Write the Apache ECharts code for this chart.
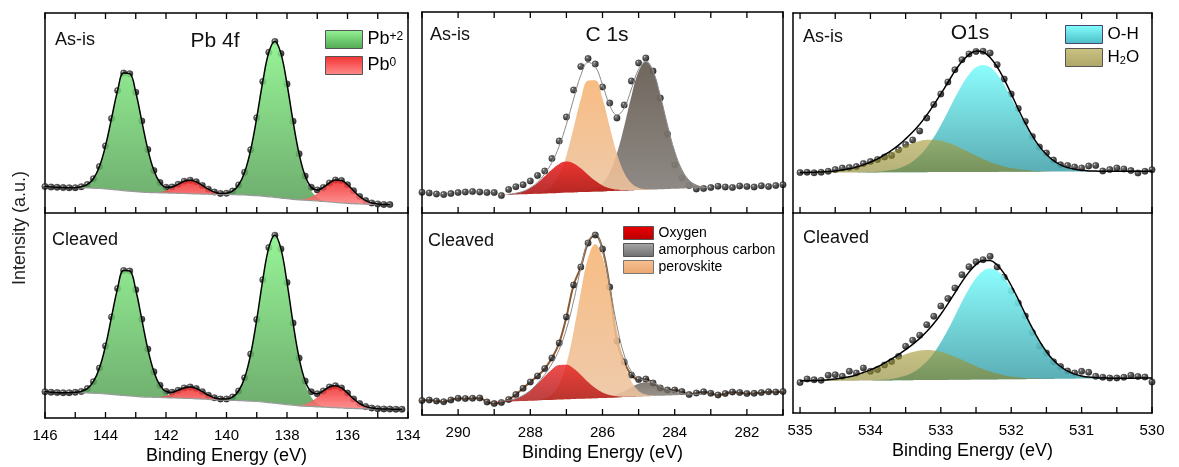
<!DOCTYPE html>
<html><head><meta charset="utf-8">
<script src="https://cdn.jsdelivr.net/npm/echarts@6/dist/echarts.min.js"></script>
<style>html,body{margin:0;padding:0;background:#fff}#c{width:1179px;height:467px}</style>
</head><body><div id="c"></div>
<script>
// ---------------- Pb 4f ----------------
const pbCats = [146.0,145.8,145.6,145.4,145.2,145.0,144.8,144.6,144.4,144.2,144.0,143.8,143.6,143.4,143.2,143.0,142.8,142.6,142.4,142.2,142.0,141.8,141.6,141.4,141.2,141.0,140.8,140.6,140.4,140.2,140.0,139.8,139.6,139.4,139.2,139.0,138.8,138.6,138.4,138.2,138.0,137.8,137.6,137.4,137.2,137.0,136.8,136.6,136.4,136.2,136.0,135.8,135.6,135.4,135.2,135.0,134.8,134.6,134.4,134.2,134.0];
const pbTicks = [134,135,136,137,138,139,140,141,142,143,144,145,146];
const pbAsisData = [26.5,26,25.7,25.4,25.2,25.3,26.3,28.5,34.3,46.5, 67.1,94.6,122.4,139.9,139.3,120.7,91.9,63.6,42.6,30.5, 25.8,26.0,28.7,31.7,32.8,31.2,27.6,23.8,20.9,19.6, 19.8,21.9,28,40.8,63.2,95.3,131.5,160.7,171.6,159.4, 129,91.8,59.2,37,25.8,23.1,25.6,30,33,32.5, 28.3,22.3,16.5,12.4,10.1,9.1,8.6,8.4];
const pbAsisBase = [26,25.8,25.6,25.4,25.3,25.2,25.1,25.0,24.8,24.5, 24.1,23.6,23.0,22.4,21.8,21.3,20.9,20.6,20.4,20.2, 20.0,19.9,19.7,19.5,19.3,19.1,18.9,18.8,18.6,18.5, 18.4,18.3,18.2,18.0,17.7,17.3,16.8,16.2,15.6,14.9, 14.3,13.7,13.2,12.8,12.4,12.0,11.5,11.0,10.5,10.0, 9.6,9.3,9.0,8.8,8.7,8.6,8.5,8.4];
const pbAsisPb2 = [0,0,0,0,0.1,0.3,1.1,3.5,9.5,22, 43,71,99.4,117.5,117.5,99.4,71,43,22,9.5, 3.5,1.1,0.3,0.1,0,0,0,0,0,0.3, 1.1,3.6,9.8,22.8,45.5,78,114.7,144.5,156,144.5, 114.7,78,45.5,22.8,9.8,3.6,1.1,0.3,0,0, 0,0,0,0,0,0,0,0];
const pbAsisPb0 = [0,0,0,0,0,0,0,0,0,0, 0,0,0,0,0,0,0,0,0.3,0.8, 2.3,5,8.7,12.1,13.5,12.1,8.7,5,2.3,0.8, 0.3,0,0,0,0,0,0,0,0,0, 0,0.1,0.5,1.4,3.6,7.5,13,18.7,22.5,22.5, 18.7,13,7.5,3.6,1.4,0.5,0.1,0];
const pbClvData = [26.2,25.8,25.4,25.2,25.3,25.7,26.6,29.4,36.3,49.9, 72.1,101.1,129.6,147.5,147,128.2,98.7,68.9,46.3,32.7, 26.6,25.7,27.7,30.1,31,29.5,26.3,22.8,20.2,19, 19,21,27,40.2,63.9,98.5,138.2,170.4,182.8,169.1, 135.6,95,60,37,26.2,24.2,27.1,31,32.3,30.1, 24.9,19.1,14.4,11.4,9.9,9.3,9.0,8.9,8.8,8.8];
const pbClvBase = [25.8,25.7,25.6,25.5,25.4,25.3,25.2,25.0,24.8,24.5, 24.1,23.6,23.0,22.5,22.0,21.6,21.2,20.9,20.7,20.5, 20.3,20.1,19.9,19.7,19.5,19.2,18.9,18.6,18.3,18.0, 17.8,17.6,17.4,17.2,16.9,16.5,16.0,15.4,14.8,14.1, 13.4,12.8,12.2,11.8,11.5,11.2,10.9,10.6,10.3,10.0, 9.7,9.5,9.3,9.2,9.1,9.0,9.0,8.9,8.9,8.8];
const pbClvPb2 = [0,0,0,0,0.1,0.4,1.4,4.4,11.5,25.4, 48,77.5,106.6,125,125,106.6,77.5,48,25.4,11.5, 4.4,1.4,0.4,0.1,0,0,0,0,0,0.3, 1,3.4,9.6,23,47,82,122.2,155,168,155, 122.2,82,47,23,9.6,3.4,1,0.3,0,0, 0,0,0,0,0,0,0,0,0,0];
const pbClvPb0 = [0,0,0,0,0,0,0,0,0,0, 0,0,0,0,0,0,0,0,0.2,0.7, 1.9,4.2,7.4,10.3,11.5,10.3,7.4,4.2,1.9,0.7, 0.2,0,0,0,0,0,0,0,0,0, 0,0.3,0.8,2.2,5.1,9.6,15.2,20.1,22,20.1, 15.2,9.6,5.1,2.2,0.8,0.3,0,0,0,0];

// ---------------- C 1s ----------------
const cCats = [291.0,290.8,290.6,290.4,290.2,290.0,289.8,289.6,289.4,289.2,289.0,288.8,288.6,288.4,288.2,288.0,287.8,287.6,287.4,287.2,287.0,286.8,286.6,286.4,286.2,286.0,285.8,285.6,285.4,285.2,285.0,284.8,284.6,284.4,284.2,284.0,283.8,283.6,283.4,283.2,283.0,282.8,282.6,282.4,282.2,282.0,281.8,281.6,281.4,281.2,281.0];
const cTicks = [281,282,283,284,285,286,287,288,289,290,291];
const cAsisData = [20.7,20,19,18.5,19.5,20.5,21,21.5,21,20.5, 20.5,17.5,23.5,26.3,28.3,32,37.5,42,54.5,72, 96,123,146.6,154.5,149,126,110,95,108,132, 150,155,142,115,79,48,35,27.5,24,24.5, 25.5,26.8,26,25.5,27,26.5,26,27.3,26.5,27.5, 28.3];
const cAsisEnv = [null,null,null,null,null,null,null,null,null,null, null,null,18.8,19.8,21.7,25.3,30.8,39.2,50.7,66.9, 88.6,113.9,137.8,150.6,146.5,128.4,107.8,98,104.7,124, 143.8,151.9,142,117.7,88,61.6,43.2,32.7,27.9,25.9, 25.3,null,null,null,null,null,null,null,null,null, null];
const cAsisBase = [18.3,18.3,18.3,18.3,18.3,18.3,18.3,18.3,18.3,18.3, 18.3,18.3,18.3,18.6,18.8,19.1,19.3,19.6,19.8,20.1, 20.4,20.6,20.9,21.1,21.4,21.6,21.9,22.2,22.4,22.7, 22.9,23.2,23.4,23.7,24.0,24.2,24.5,24.7,25.0,25.0, 25,25,25,25,25,25,25,25,25,25, 25];
const cAsisOxy = [0,0,0,0,0,0,0,0,0,0, 0,0.2,0.5,1.2,2.9,6,10.8,17.2,23.8,29, 31,29,23.8,17.2,10.8,6,2.9,1.2,0.5,0.2, 0,0,0,0,0,0,0,0,0,0, 0,0,0,0,0,0,0,0,0,0, 0];
const cAsisPer = [0,0,0,0,0,0,0,0,0,0, 0,0,0,0,0,0.2,0.7,2.4,7.1,17.8, 37.2,64.3,92.8,111.4,111.4,92.8,64.3,37.2,17.8,7.1, 2.4,0.7,0.2,0,0,0,0,0,0,0, 0,0,0,0,0,0,0,0,0,0, 0];
const cAsisAmo = [0,0,0,0,0,0,0,0,0,0, 0,0,0,0,0,0,0,0,0,0, 0,0,0.3,0.9,2.9,8,18.7,37.4,64,94, 118.5,128,118.5,94,64,37.4,18.7,8,2.9,0.9, 0.3,0,0,0,0,0,0,0,0,0, 0];
const cClvData = [14.5,15,14,13.3,15,16.7,16.5,16.7,17,13, 11.5,12.5,15.5,20.5,26.7,33,39,46.5,57,72, 98,130,148,172,180,166,128,74,53,40, 35.5,36,32,27,25,25,23.5,20.5,22,23.3, 21.7,20,21.5,23,22.5,21.5,21.7,22.5,23.3,23, 23.5];
const cClvEnv = [null,null,null,null,null,null,null,null,null,null, null,13.9,14.6,16.5,19.6,24.6,31.7,40.5,51.3,65.5, 85.8,114,146.8,173.5,181.2,163.5,128.1,89.4,60,43.6, 36.9,34.4,32.3,29,25.6,23,21.4,20.8,20.7,20.5, null,null,null,null,null,null,null,null,null,null, null];
const cClvBase = [13.5,13.5,13.5,13.5,13.5,13.5,13.5,13.5,13.5,13.5, 13.5,13.5,13.5,13.8,14.0,14.3,14.6,14.9,15.1,15.4, 15.7,16.0,16.2,16.5,16.8,17.0,17.3,17.6,17.9,18.1, 18.4,18.7,19.0,19.2,19.5,19.8,20.0,20.3,20.5,20.5, 20.5,20.5,20.5,20.5,20.5,20.5,20.5,20.5,20.5,20.5, 20.5];
const cClvOxy = [0,0,0,0,0,0,0,0,0,0, 0.2,0.4,1.1,2.7,5.6,10.2,16.6,23.9,30.5,34.5, 34.5,30.5,23.9,16.6,10.2,5.6,2.7,1.1,0.4,0.2, 0,0,0,0,0,0,0,0,0,0, 0,0,0,0,0,0,0,0,0,0, 0];
const cClvPer = [0,0,0,0,0,0,0,0,0,0, 0,0,0,0,0,0.1,0.5,1.7,5.7,15.6, 35.6,67.5,106.7,140.4,154,140.4,106.7,67.5,35.6,15.6, 5.7,1.7,0.5,0.1,0,0,0,0,0,0, 0,0,0,0,0,0,0,0,0,0, 0];
const cClvAmo = [0,0,0,0,0,0,0,0,0,0, 0,0,0,0,0,0,0,0,0,0, 0,0,0,0,0.2,0.5,1.4,3.2,6.1,9.7, 12.8,14,12.8,9.7,6.1,3.2,1.4,0.5,0.2,0, 0,0,0,0,0,0,0,0,0,0, 0];

// ---------------- O1s ----------------
const oCats = [535.1,535.0,534.9,534.8,534.7,534.6,534.5,534.4,534.3,534.2,534.1,534.0,533.9,533.8,533.7,533.6,533.5,533.4,533.3,533.2,533.1,533.0,532.9,532.8,532.7,532.6,532.5,532.4,532.3,532.2,532.1,532.0,531.9,531.8,531.7,531.6,531.5,531.4,531.3,531.2,531.1,531.0,530.9,530.8,530.7,530.6,530.5,530.4,530.3,530.2,530.1,530.0];
const oTicks = [530,530.5,531,531.5,532,532.5,533,533.5,534,534.5,535];
const oE = oCats.slice(1);
const oAsisData = [40.5,40.7,40.2,40.7,41.7,43.5,45,45.5,46.5,49.5, 51.5,53.5,56,57.5,63.3,68.5,73,82,95,108.5, 119,131,143.3,153.3,159,161.6,161.8,160,148.3,134, 119,104.5,91.6,76.6,66,60,53,48.3,47.5,46, 45,47,47.5,42,43.5,45,44,42.5,40,41.7, 43.3];
const oAsisEnv = [40.4,40.5,40.8,41.0,41.4,42.1,43.0,44.2,45.9,48.1, 50.8,54.1,58.2,62.7,67.9,74.1,80.9,88.8,97.9,108.1, 119.1,130.5,141.8,151.4,158.4,162,161,155.6,146.1,133.6, 119.1,104,89.8,77.1,66.6,58.5,52.4,48.2,45.4,43.7, 42.7,42.1,41.9,41.7,41.7,41.7,41.7,41.7,41.7,41.8, 41.8];
const oAsisBase = [40.3,40.3,40.4,40.4,40.4,40.5,40.5,40.5,40.5,40.6, 40.6,40.6,40.7,40.7,40.7,40.8,40.8,40.8,40.8,40.9, 40.9,40.9,41.0,41.0,41.0,41.1,41.1,41.1,41.1,41.2, 41.2,41.2,41.3,41.3,41.3,41.4,41.4,41.4,41.4,41.5, 41.5,41.5,41.6,41.6,41.6,41.7,41.7,41.7,41.7,41.8, 41.8];
const oAsisOH = [0,0,0,0,0,0,0,0,0.1,0.1, 0.3,0.6,1.2,2.2,3.9,6.7,10.8,16.7,24.7,34.8, 46.9,60.3,74.2,87.1,97.6,104.6,107,104.6,97.6,87.1, 74.2,60.3,46.9,34.8,24.7,16.7,10.8,6.7,3.9,2.2, 1.2,0.6,0.3,0.1,0.1,0,0,0,0,0, 0];
const oAsisH2O = [0.1,0.2,0.4,0.6,1.0,1.6,2.5,3.7,5.3,7.4, 9.9,12.9,16.3,19.8,23.3,26.6,29.3,31.3,32.4,32.4, 31.3,29.3,26.6,23.3,19.8,16.3,12.9,9.9,7.4,5.3, 3.7,2.5,1.6,1.0,0.6,0.4,0.2,0.1,0.1,0, 0,0,0,0,0,0,0,0,0,0, 0];
const oClvData = [30.5,34,33.3,32.7,37.7,38.3,36.7,41.7,40,45, 41.7,43.5,48,51.5,56.7,66.7,72.7,77.8,88.3,96.7, 107,114.5,125,138.3,146.3,151.3,153.3,156.7,146,135.8, 122,110,97,80.5,67,60,51.2,46.5,42,40, 41.7,40.7,36.7,35.8,35,35,35.7,37.7,36.6,36, 31];
const oClvEnv = [32.0,32.2,32.4,32.8,33.3,34.0,35.0,36.3,38.1,40.5, 43.1,46.3,50.0,54.0,58.5,63.3,68.6,74.6,81.5,89.5, 98.8,109.1,120.2,131.1,140.9,148.4,152.6,152.5,148,139.4, 127.5,113.6,98.9,84.8,72.1,61.3,52.8,46.5,41.9,38.9, 37.1,35.9,35.3,35.0,34.8,34.8,34.7,34.8,34.9,34.9, 35.0];
const oClvBase = [31.8,31.9,31.9,32.0,32.1,32.1,32.2,32.2,32.3,32.4, 32.4,32.5,32.6,32.6,32.7,32.8,32.8,32.9,33.0,33.0, 33.1,33.1,33.2,33.3,33.3,33.4,33.5,33.5,33.6,33.7, 33.7,33.8,33.8,33.9,34.0,34.0,34.1,34.2,34.2,34.3, 34.4,34.4,34.5,34.6,34.6,34.7,34.7,34.8,34.9,34.9, 35.0];
const oClvOH = [0,0,0,0,0,0,0,0,0,0.1, 0.2,0.4,0.8,1.5,2.7,4.6,7.7,12.2,18.5,27, 37.6,50.1,63.9,77.9,91,101.6,108.6,111,108.6,101.6, 91,77.9,63.9,50.1,37.6,27,18.5,12.2,7.7,4.6, 2.7,1.5,0.8,0.4,0.2,0.1,0,0,0,0, 0];
const oClvH2O = [0.2,0.3,0.5,0.8,1.2,1.9,2.8,4.1,5.8,8, 10.5,13.4,16.6,19.9,23.1,25.9,28.1,29.5,30,29.5, 28.1,25.9,23.1,19.9,16.6,13.4,10.5,8,5.8,4.1, 2.8,1.9,1.2,0.8,0.5,0.3,0.2,0.1,0,0, 0,0,0,0,0,0,0,0,0,0, 0];

// axis ranges (eV) and tick steps
const pbRange = [134, 146], cRange = [281, 291], oRange = [530, 535.1];
const pbStep = 1, cStep = 1, oStep = 0.5;

// ---------------- helpers ----------------
const FONT = '"Liberation Sans", Arial, Helvetica, sans-serif';
const ball = {type:'radial', x:0.35, y:0.32, r:0.65, colorStops:[{offset:0,color:'#ffffff'},{offset:0.22,color:'#4a4a4a'},{offset:1,color:'#000000'}]};
function vgrad(c1, c2){ return {type:'linear', x:0, y:0, x2:0, y2:1, colorStops:[{offset:0,color:c1},{offset:1,color:c2}]}; }
function pairsCat(xs, ys){ return ys.map((v,i)=>[xs[i].toFixed(1), v]); }
function pairsNum(xs, ys){ return ys.map((v,i)=>[xs[i], v]); }
const isInt = v => Math.abs(v - Math.round(v)) < 1e-6;
const isEven = v => isInt(v) && Math.round(v) % 2 === 0;

function xcat(gi, cats){ return {type:'category', gridIndex:gi, position:'bottom', data:cats.map(v=>v.toFixed(1)), boundaryGap:false, show:false}; }
function xval(gi, range, step, pos, showLabels, labelFn){
  return {
    type:'value', gridIndex:gi, position:pos, min:range[0], max:range[1], interval:step, inverse:true,
    axisLine:{show:true, lineStyle:{color:'#000', width:1.5}},
    axisTick:{show:false},
    axisLabel:{show:showLabels, margin:10, color:'#000', fontSize:15, fontFamily:FONT,
      formatter:v => labelFn(v) ? String(Math.round(v)) : ''},
    splitLine:{show:false},
    name: showLabels ? 'Binding Energy (eV)' : '', nameLocation:'middle', nameGap:29,
    nameTextStyle:{color:'#000', fontSize:18, fontFamily:FONT}
  };
}
const Y_MIN = 0.01;
function yv(gi, max, pos){ return {type:'value', gridIndex:gi, position:pos, min:Y_MIN, max:max,
  axisLine:{show:true, onZero:false, lineStyle:{color:'#000', width:1.5}}, axisTick:{show:false}, axisLabel:{show:false}, splitLine:{show:false}}; }

function dotS(xi, yi, xs, ys){ return {type:'scatter', xAxisIndex:xi, yAxisIndex:yi, data:pairsNum(xs,ys), symbol:'circle', symbolSize:6.5,
  itemStyle:{color:ball, borderColor:'#000', borderWidth:0.3}, z:2, silent:true}; }
function lineS(xi, yi, xs, ys, color, width, z){ return {type:'line', xAxisIndex:xi, yAxisIndex:yi, data:pairsNum(xs,ys), symbol:'none',
  smooth:0.4, lineStyle:{color:color, width:width}, z:z, silent:true}; }
function baseS(gi, xs, ys, stack){ return {type:'line', xAxisIndex:gi, yAxisIndex:gi, data:pairsCat(xs,ys), stack:stack, symbol:'none',
  smooth:0.4, lineStyle:{width:0, opacity:0}, z:3, silent:true}; }
function compS(name, gi, xs, ys, stack, fill, op){ return {type:'line', name:name, xAxisIndex:gi, yAxisIndex:gi, data:pairsCat(xs,ys), stack:stack,
  symbol:'none', smooth:0.4, lineStyle:{width:0, opacity:0}, areaStyle:{color:fill, opacity:op}, z:3, silent:true}; }

const greenFill = vgrad('#84f284', '#559e55');
const redFill = vgrad('#ee2424', '#ff8080');
const oxyFill = vgrad('#ea1a1a', '#a80a0a');
const perFill = vgrad('#f6b372', '#ecc3a0');
const amoFill = vgrad('#655b51', '#87827d');
const ohFill = vgrad('#80fdfd', '#48a4ac');
const h2oFill = vgrad('rgba(165,155,55,0.62)', 'rgba(135,130,40,0.62)');

const X = {g0b:6, g0t:7, g1b:8, g2b:9, g2t:10, g3b:11, g4b:12, g4t:13, g5b:14};
const gridH = [200, 205, 201, 202, 200, 200];

const series = [
  dotS(X.g0b,0,pbCats,pbAsisData),
  baseS(0,pbCats,pbAsisBase,'s0g'), compS('Pb+2',0,pbCats,pbAsisPb2,'s0g',greenFill,0.85),
  baseS(0,pbCats,pbAsisBase,'s0r'), compS('Pb0',0,pbCats,pbAsisPb0,'s0r',redFill,0.85),
  lineS(X.g0b,0,pbCats,pbAsisBase,'#9a9a9a',1.2,4),
  lineS(X.g0t,0,pbCats,pbAsisData,'#000',1.5,5),

  dotS(X.g1b,1,pbCats,pbClvData),
  baseS(1,pbCats,pbClvBase,'s1g'), compS('Pb+2',1,pbCats,pbClvPb2,'s1g',greenFill,0.85),
  baseS(1,pbCats,pbClvBase,'s1r'), compS('Pb0',1,pbCats,pbClvPb0,'s1r',redFill,0.85),
  lineS(X.g1b,1,pbCats,pbClvBase,'#9a9a9a',1.2,4),
  lineS(X.g1b,1,pbCats,pbClvData,'#000',1.5,5),

  dotS(X.g2b,2,cCats,cAsisData),
  baseS(2,cCats,cAsisBase,'s2a'), compS('amorphous carbon',2,cCats,cAsisAmo,'s2a',amoFill,0.93),
  baseS(2,cCats,cAsisBase,'s2p'), compS('perovskite',2,cCats,cAsisPer,'s2p',perFill,0.88),
  baseS(2,cCats,cAsisBase,'s2o'), compS('Oxygen',2,cCats,cAsisOxy,'s2o',oxyFill,0.85),
  lineS(X.g2t,2,cCats,cAsisEnv,'#8a8a8a',1,5),

  lineS(X.g3b,3,cCats,cClvData,'#8a5a32',2,1.9),
  dotS(X.g3b,3,cCats,cClvData),
  baseS(3,cCats,cClvBase,'s3a'), compS('amorphous carbon',3,cCats,cClvAmo,'s3a',amoFill,0.8),
  baseS(3,cCats,cClvBase,'s3p'), compS('perovskite',3,cCats,cClvPer,'s3p',perFill,0.88),
  baseS(3,cCats,cClvBase,'s3o'), compS('Oxygen',3,cCats,cClvOxy,'s3o',oxyFill,0.78),
  lineS(X.g3b,3,cCats,cClvEnv,'#8a8a8a',1,5),

  dotS(X.g4b,4,oE,oAsisData),
  baseS(4,oE,oAsisBase,'s4h'), compS('O-H',4,oE,oAsisOH,'s4h',ohFill,0.9),
  baseS(4,oE,oAsisBase,'s4w'), compS('H2O',4,oE,oAsisH2O,'s4w',h2oFill,1),
  lineS(X.g4t,4,oE,oAsisEnv,'#000',1.5,5),

  dotS(X.g5b,5,oE,oClvData),
  baseS(5,oE,oClvBase,'s5h'), compS('O-H',5,oE,oClvOH,'s5h',ohFill,0.9),
  baseS(5,oE,oClvBase,'s5w'), compS('H2O',5,oE,oClvH2O,'s5w',h2oFill,1),
  lineS(X.g5b,5,oE,oClvEnv,'#000',1.5,5)
];

const grids = [
  {left:45, top:13, width:363, height:200},
  {left:45, top:213, width:363, height:205},
  {left:422, top:12, width:361, height:201},
  {left:422, top:213, width:361, height:202},
  {left:793, top:13, width:359, height:200},
  {left:793, top:213, width:359, height:200}
];

const xAxes = [
  xcat(0, pbCats), xcat(1, pbCats), xcat(2, cCats), xcat(3, cCats), xcat(4, oCats), xcat(5, oCats),
  xval(0, pbRange, pbStep, 'bottom', false, isEven),
  xval(0, pbRange, pbStep, 'top', false, isEven),
  xval(1, pbRange, pbStep, 'bottom', true, isEven),
  xval(2, cRange, cStep, 'bottom', false, isEven),
  xval(2, cRange, cStep, 'top', false, isEven),
  xval(3, cRange, cStep, 'bottom', true, isEven),
  xval(4, oRange, oStep, 'bottom', false, isInt),
  xval(4, oRange, oStep, 'top', false, isInt),
  xval(5, oRange, oStep, 'bottom', true, isInt)
];
const yAxes = gridH.map((h,i)=>yv(i,h,'left')).concat(gridH.map((h,i)=>yv(i,h,'right')));

function legendItem(name, c1, c2, border){ return {name:name, itemStyle:{color:vgrad(c1,c2), borderColor:border, borderWidth:1, opacity:1}}; }
const legends = [
  {left:325, top:30, padding:0, orient:'vertical', icon:'rect', itemWidth:37, itemHeight:18, itemGap:7, selectedMode:false,
   data:[legendItem('Pb+2','#94f494','#52a852','#555'), legendItem('Pb0','#f23232','#ff8c8c','#555')],
   formatter:n => n === 'Pb+2' ? '{m|Pb}{s|+2}' : '{m|Pb}{s|0}',
   textStyle:{color:'#000', fontFamily:FONT, fontSize:18, rich:{m:{fontSize:18, fontFamily:FONT, color:'#000'}, s:{fontSize:12, fontFamily:FONT, color:'#000', verticalAlign:'top'}}}},
  {left:623, top:226, padding:0, orient:'vertical', icon:'rect', itemWidth:30, itemHeight:13, itemGap:3, selectedMode:false,
   data:[legendItem('Oxygen','#ee0000','#b80000','#555'), legendItem('amorphous carbon','#a8a8a8','#6e6e6e','#555'), legendItem('perovskite','#f7c092','#eaa66e','#777')],
   textStyle:{color:'#000', fontFamily:FONT, fontSize:14, lineHeight:14}},
  {left:1065, top:25, padding:0, orient:'vertical', icon:'rect', itemWidth:37, itemHeight:18, itemGap:4, selectedMode:false,
   data:[legendItem('O-H','#84ffff','#4cbcc4','#447'), legendItem('H2O','#cbc384','#aea666','#555')],
   formatter:n => n === 'H2O' ? '{m|H}{b|2}{m|O}' : '{m|O-H}',
   textStyle:{color:'#000', fontFamily:FONT, fontSize:17, rich:{m:{fontSize:17, fontFamily:FONT, color:'#000'}, b:{fontSize:11, fontFamily:FONT, color:'#000', verticalAlign:'bottom'}}}}
];

function txt(t, x, y, size, align){
  return {type:'text', x:x, y:y, z:100, silent:true,
    style:{text:t, font:size + 'px ' + FONT, fill:'#111', textAlign:align, textVerticalAlign:'middle', align:align, verticalAlign:'middle'}};
}
const graphics = [
  txt('As-is', 55, 40, 18, 'left'),
  txt('Pb 4f', 215, 41, 21, 'center'),
  txt('Cleaved', 52, 240, 18, 'left'),
  txt('As-is', 430, 35, 18, 'left'),
  txt('C 1s', 607, 35, 21, 'center'),
  txt('Cleaved', 428, 241, 18, 'left'),
  txt('As-is', 803, 37, 18, 'left'),
  txt('O1s', 970, 33, 21, 'center'),
  txt('Cleaved', 803, 238, 18, 'left'),
  {type:'text', x:20, y:228, rotation:Math.PI/2, z:100, silent:true,
   style:{text:'Intensity (a.u.)', font:'18px ' + FONT, fill:'#222', textAlign:'center', textVerticalAlign:'middle', align:'center', verticalAlign:'middle'}}
];

const chart = echarts.init(document.getElementById('c'), null, {renderer:'canvas', width:1179, height:467});
chart.setOption({
  animation:false,
  grid:grids,
  xAxis:xAxes,
  yAxis:yAxes,
  legend:legends,
  graphic:graphics,
  series:series
});

// inward tick marks, placed through the value axes' own scales
const tickSpecs = [
  {xi:X.g0b, g:0, ticks:pbTicks, top:true},
  {xi:X.g1b, g:1, ticks:pbTicks, top:false},
  {xi:X.g2b, g:2, ticks:cTicks, top:true},
  {xi:X.g3b, g:3, ticks:cTicks, top:false},
  {xi:X.g4b, g:4, ticks:oTicks, top:true},
  {xi:X.g5b, g:5, ticks:oTicks, top:false}
];
const TICK_LEN = 6;
const tickEls = [];
tickSpecs.forEach(s => {
  const gr = grids[s.g];
  const yb = gr.top + gr.height, yt = gr.top;
  s.ticks.forEach(t => {
    const px = chart.convertToPixel({xAxisIndex:s.xi}, t);
    if (px == null || isNaN(px)) return;
    tickEls.push({type:'line', z:100, silent:true, shape:{x1:px, y1:yb, x2:px, y2:yb - TICK_LEN}, style:{stroke:'#000', lineWidth:1.3}});
    if (s.top) tickEls.push({type:'line', z:100, silent:true, shape:{x1:px, y1:yt, x2:px, y2:yt + TICK_LEN}, style:{stroke:'#000', lineWidth:1.3}});
  });
});
chart.setOption({graphic: graphics.concat(tickEls)});
</script>
</body></html>
